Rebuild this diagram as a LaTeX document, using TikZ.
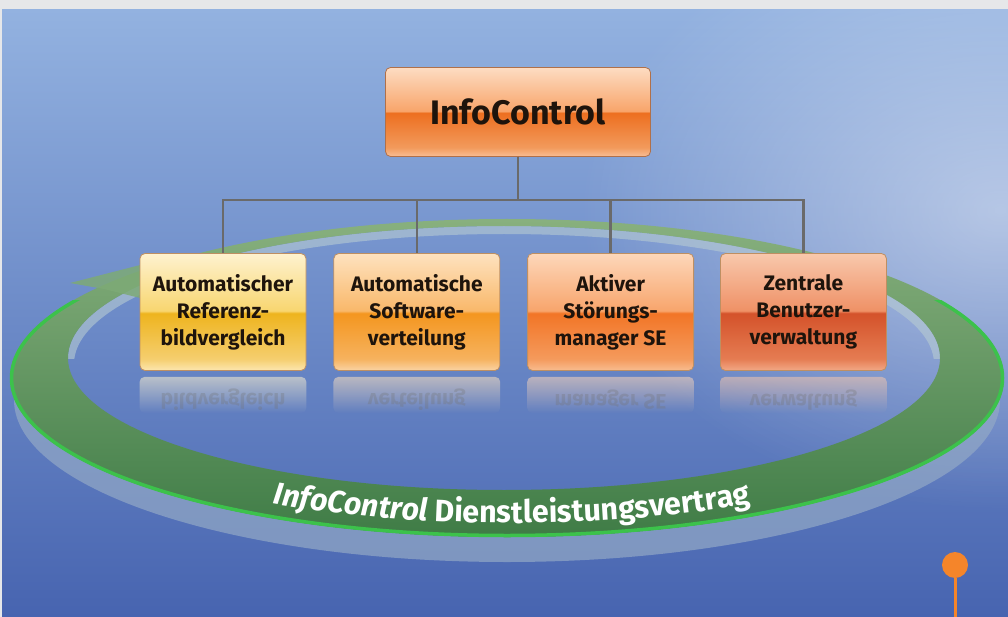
\documentclass[tikz,border=0pt]{standalone}
\usepackage{fontspec}
\setmainfont{Fira Sans}
\newfontfamily\ringfont[FakeStretch=0.98]{Fira Sans}
\usetikzlibrary{positioning, fadings, decorations.text, calc}

\definecolor{SkyTop}{HTML}{93B2E0}
\definecolor{SkyMid}{HTML}{6890D4}
\definecolor{SkyBot}{HTML}{4764B0}
\definecolor{Strip}{HTML}{E6E7E9}
\definecolor{Wire}{HTML}{6A6A6A}
\definecolor{Ink}{HTML}{1E140C}
\definecolor{BoxRim}{HTML}{BE8F62}
\definecolor{HeadRim}{HTML}{B0704A}
\definecolor{RingPale}{HTML}{88B07E}
\definecolor{RingMid}{HTML}{44994D}
\definecolor{RingDark}{HTML}{3F7C46}
\definecolor{RingEdge}{HTML}{3CC24B}
\definecolor{RingWall}{HTML}{93A9C6}
\definecolor{RingInner}{HTML}{B7CBD2}
\definecolor{RingHead}{HTML}{7DAA76}
\definecolor{Dot}{HTML}{F5852A}

% glossy fills: top, upper half, lower half, near bottom, bottom edge
\newcommand{\glossy}[6]{%
  \definecolor{#1a}{HTML}{#2}\definecolor{#1b}{HTML}{#3}\definecolor{#1c}{HTML}{#4}%
  \definecolor{#1d}{HTML}{#5}\definecolor{#1e}{HTML}{#6}%
  \pgfdeclareverticalshading{#1}{100bp}{color(0bp)=(#1e); color(25bp)=(#1e);
    color(30bp)=(#1d); color(49.5bp)=(#1c); color(50.5bp)=(#1b); color(75bp)=(#1a); color(100bp)=(#1a)}}
\glossy{glossHead}{FDDCC2}{F8A56B}{ED6F20}{F29A5C}{F8BE96}
\glossy{glossA}{FEF2CF}{F8D670}{EEB41E}{F5CE6E}{FCE6B0}
\glossy{glossB}{FEE2BF}{F9B86A}{F4961F}{F6B25E}{FAD3A4}
\glossy{glossC}{FDD7BA}{F8A56C}{F27526}{F49A5C}{F8BC90}
\glossy{glossD}{F8C8AC}{EF9166}{D4522A}{E57C52}{F2A886}

\tikzfading[name=glow, inner color=transparent!0, outer color=transparent!100]

\begin{document}
\begin{tikzpicture}[x=1pt, y=-1pt,
    box/.style={shade, rounded corners=5pt, draw=BoxRim, line width=.8pt,
      minimum width=166pt, minimum height=117pt, inner sep=0pt, align=center,
      text=Ink, font=\fontsize{21}{27}\selectfont\bfseries},
    head/.style={box, draw=HeadRim, minimum width=265pt, minimum height=89pt,
      font=\fontsize{34}{34}\selectfont\bfseries},
    wire/.style={draw=Wire, line width=2.5pt},
    ghost/.style={path fading=south, opacity=.55},
    mirror/.style={text=black!55, opacity=.3, font=\fontsize{21}{27}\selectfont\bfseries}]
  \useasboundingbox (0,0) rectangle (1008,617);

  % sky
  \shade[top color=SkyTop, middle color=SkyMid, bottom color=SkyBot] (0,9) rectangle (1008,617);
  \fill[white, path fading=glow, opacity=.45] (1000,210) ellipse [x radius=420, y radius=300];
  \fill[Strip] (0,0) rectangle (1008,9);
  \fill[Strip] (0,0) rectangle (1.5,617);

  % ring: near wall, far inner wall, surface, rim
  \begin{scope}
    \clip (0,378) rectangle (1008,617);
    \fill[RingWall, opacity=.7, even odd rule]
      (507,400) ellipse [x radius=493, y radius=162]
      (507,378) ellipse [x radius=497, y radius=159];
  \end{scope}
  \begin{scope}
    \clip (0,0) rectangle (1008,358);
    \fill[RingInner, opacity=.6, even odd rule]
      (504,358) ellipse [x radius=436, y radius=132]
      (504,364) ellipse [x radius=430, y radius=130];
  \end{scope}
  \shade[even odd rule, top color=RingPale, middle color=RingMid, bottom color=RingDark]
    (507,378) ellipse [x radius=497, y radius=159]
    (504,358) ellipse [x radius=436, y radius=132];
  \begin{scope}
    \clip (0,300) rectangle (1008,617);
    \draw[RingEdge, line width=3.5pt] (507,378) ellipse [x radius=495.5, y radius=157.5];
  \end{scope}
  \fill[RingHead, opacity=.85] (70,283) -- (148,263) -- (148,300) -- (104,289) -- cycle;

  \path[decorate, decoration={text along path, text align=center, text color=white,
      text={|\fontsize{31}{31}\ringfont\bfseries\itshape|InfoControl |\fontsize{31}{31}\ringfont\bfseries\upshape|Dienstleistungsvertrag}}]
    (512,401) ++(132:440 and 122) arc[start angle=132, end angle=48, x radius=440, y radius=122];

  % boxes
  \node[head, shading=glossHead] (top) at (518,112) {InfoControl};
  \node[box, shading=glossA] (b1) at (223,312) {Automatischer\\Referenz-\\bildvergleich};
  \node[box, shading=glossB, right=27pt of b1] (b2) {Automatische\\Software-\\verteilung};
  \node[box, shading=glossC, right=27pt of b2] (b3) {Aktiver\\Störungs-\\manager SE};
  \node[box, shading=glossD, right=26pt of b3] (b4) {Zentrale\\Benutzer-\\verwaltung};

  \foreach \b in {b1,b2,b3,b4}
    \draw[wire] (top.south) -- ++(0,43) -| (\b.north);

  % reflections
  \foreach \b/\c/\t in {b1/glossAa/bildvergleich, b2/glossBa/verteilung,
                        b3/glossCa/manager SE, b4/glossDa/verwaltung} {
    \fill[\c, ghost, rounded corners=5pt] ($(\b.south west)+(0,6)$) rectangle ($(\b.south east)+(0,42)$);
    \node[mirror] at ($(\b.south)+(0,29)$) {\scalebox{1}[-1]{\t}};
  }

  % marker
  \node[circle, fill=Dot, minimum size=26pt, inner sep=0pt] (pin) at (955,565) {};
  \coordinate (pinfoot) at (955,617);
  \draw[Dot, line width=3pt] (pin) -- (pinfoot);
\end{tikzpicture}
\end{document}
